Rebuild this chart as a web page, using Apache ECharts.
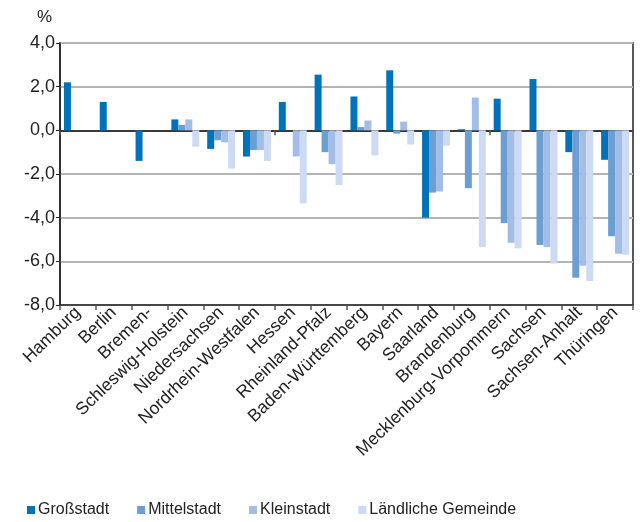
<!DOCTYPE html>
<html>
<head>
<meta charset="utf-8">
<script src="https://cdn.jsdelivr.net/npm/echarts@6/dist/echarts.min.js"></script>
<style>
  html, body { margin: 0; padding: 0; background: #fff; }
  #chart { width: 640px; height: 522px; }
</style>
</head>
<body>
<div id="chart"></div>
<script>
// Bundesländer
const laender = ['Hamburg', 'Berlin', 'Bremen-', 'Schleswig-Holstein', 'Niedersachsen',
  'Nordrhein-Westfalen', 'Hessen', 'Rheinland-Pfalz', 'Baden-Württemberg', 'Bayern',
  'Saarland', 'Brandenburg', 'Mecklenburg-Vorpommern', 'Sachsen', 'Sachsen-Anhalt', 'Thüringen']

// Werte in %
const grossstadt = [2.2, 1.3, -1.4, 0.5, -0.85, -1.2, 1.3, 2.55, 1.55, 2.75, -4.0, 0.05, 1.45, 2.35, -1.0, -1.35]
const mittelstadt = [null, null, null, 0.25, -0.45, -0.9, 0, -1.0, 0.15, -0.15, -2.85, -2.65, -4.25, -5.25, -6.75, -4.85]
const kleinstadt = [null, null, null, 0.5, -0.55, -0.9, -1.2, -1.55, 0.45, 0.4, -2.8, 1.5, -5.15, -5.35, -6.2, -5.65]
const laendlich = [null, null, null, -0.75, -1.75, -1.4, -3.35, -2.5, -1.15, -0.65, -0.7, -5.35, -5.4, -6.1, -6.9, -5.7]

const serienNamen = ['Großstadt', 'Mittelstadt', 'Kleinstadt', 'Ländliche Gemeinde']
const farben = ['#0072b9', '#6b9fd4', '#a3bde6', '#ccdaf3']

const font = 'Liberation Sans, Arial, Helvetica, sans-serif'

const myChart = echarts.init(document.getElementById('chart'))

const options = {
  animation: false,
  color: farben,
  textStyle: { fontFamily: font },
  grid: {
    left: 60, right: 7, top: 43, bottom: 217,
    show: true, borderColor: '#222', borderWidth: 1.5, backgroundColor: 'transparent'
  },
  legend: {
    bottom: -1, left: 22,
    itemWidth: 8, itemHeight: 8, itemGap: 28,
    icon: 'rect',
    textStyle: { fontSize: 16, color: '#222', fontFamily: font, padding: [0, 0, 0, -2] },
    data: serienNamen
  },
  xAxis: [
    {
      // unten mit Beschriftung
      type: 'category',
      data: laender,
      position: 'bottom',
      axisLine: { onZero: false, lineStyle: { color: '#222', width: 1.5 } },
      axisTick: { show: true, length: 5, lineStyle: { color: '#555', width: 1.5 } },
      axisLabel: { rotate: 44, interval: 0, fontSize: 17.5, color: '#222', fontFamily: font, margin: 5 },
      splitLine: { show: false }
    },
    {
      // Nulllinie mit Strichen
      type: 'category',
      data: laender,
      position: 'bottom',
      axisLine: { onZero: true, lineStyle: { color: '#111', width: 1.5 } },
      axisTick: { show: true, length: 5, inside: false, lineStyle: { color: '#555', width: 1.5 } },
      axisLabel: { show: false },
      splitLine: { show: false }
    }
  ],
  yAxis: {
    type: 'value',
    min: -8, max: 4, interval: 2,
    name: '%',
    nameLocation: 'end',
    nameGap: 17,
    nameTextStyle: { fontSize: 17, color: '#222', fontFamily: font, align: 'right', padding: [0, 8, 0, 0] },
    axisLine: { show: true, lineStyle: { color: '#222', width: 1.5 } },
    axisTick: { show: true, length: 4, lineStyle: { color: '#222' } },
    axisLabel: {
      fontSize: 18, color: '#222', fontFamily: font, margin: 5,
      formatter: (v) => v.toFixed(1).replace('.', ',')
    },
    splitLine: { show: true, lineStyle: { color: '#b4b4b4', width: 2 } }
  },
  series: [grossstadt, mittelstadt, kleinstadt, laendlich].map((werte, i) => ({
    name: serienNamen[i],
    type: 'bar',
    xAxisIndex: 0,
    data: werte,
    barGap: '0%',
    barCategoryGap: '22%'
  }))
}

myChart.setOption(options)
</script>
</body>
</html>
